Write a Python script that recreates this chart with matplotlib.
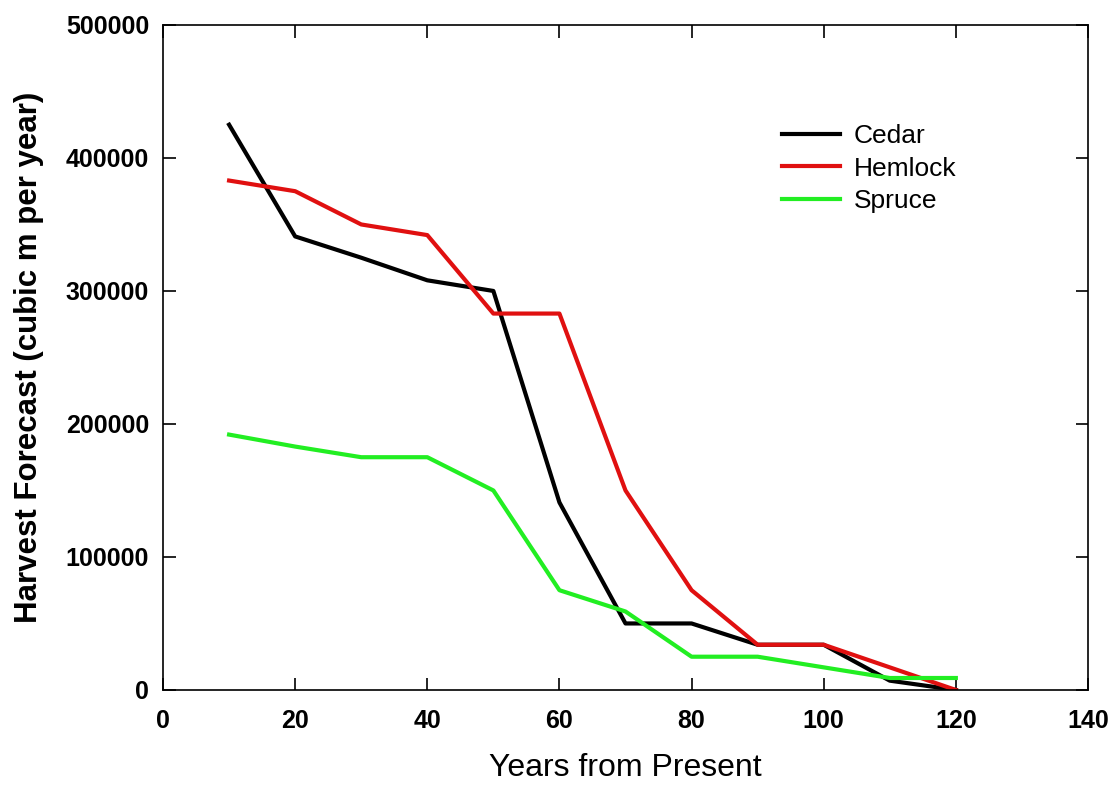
import matplotlib
matplotlib.use("Agg")
import matplotlib.pyplot as plt

plt.rcParams["font.family"] = ["Liberation Sans", "DejaVu Sans"]

years = [10, 20, 30, 40, 50, 60, 70, 80, 90, 100, 110, 120]
cedar = [425000, 341000, 325000, 308000, 300000, 141000, 50000, 50000, 34000, 34000, 7000, 0]
hemlock = [383000, 375000, 350000, 342000, 283000, 283000, 150000, 75000, 34000, 34000, 17000, 0]
spruce = [192000, 183000, 175000, 175000, 150000, 75000, 59000, 25000, 25000, 17000, 9000, 9000]

fig = plt.figure(figsize=(11.12, 7.87), dpi=100)
ax = fig.add_axes([0.1466, 0.1233, 0.8318, 0.845])

ax.plot(years, cedar, color="black", linewidth=3.0, label="Cedar")
ax.plot(years, hemlock, color="#e01010", linewidth=3.0, label="Hemlock")
ax.plot(years, spruce, color="#22ee22", linewidth=3.0, label="Spruce")

ax.set_xlim(0, 140)
ax.set_ylim(0, 500000)
ax.set_xticks(range(0, 141, 20))
ax.set_yticks(range(0, 500001, 100000))
ax.tick_params(direction="in", top=True, right=True, length=9, width=1.2,
               labelsize=18, pad=10)
ax.tick_params(axis="x", pad=14)
for lbl in ax.get_xticklabels() + ax.get_yticklabels():
    lbl.set_fontweight("bold")
for sp in ax.spines.values():
    sp.set_linewidth(1.2)

ax.set_xlabel("Years from Present", fontsize=23, labelpad=14)
ax.set_ylabel("Harvest Forecast (cubic m per year)", fontsize=22.5,
              fontweight="bold", labelpad=16)

ax.legend(loc="upper left", bbox_to_anchor=(0.643, 0.887), frameon=False,
          fontsize=19, handlelength=2.2, handletextpad=0.55, labelspacing=0.33)

fig.savefig("out.png", dpi=100)
